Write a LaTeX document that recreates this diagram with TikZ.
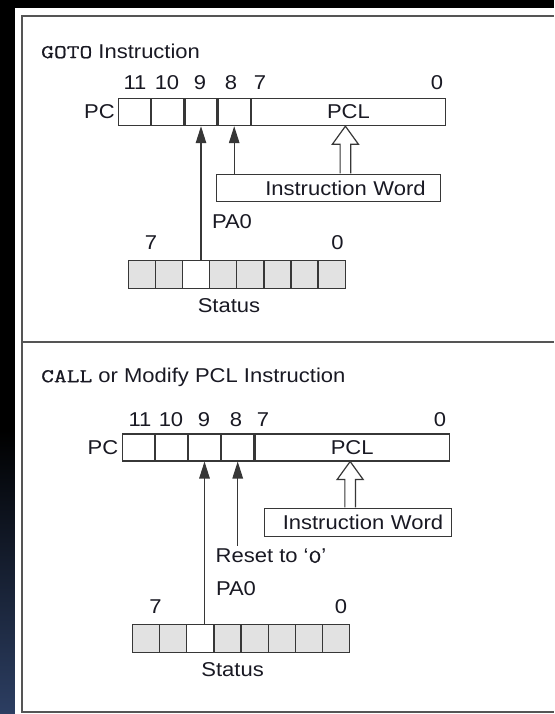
\documentclass[tikz,border=0pt]{standalone}
\usepackage{fontspec}
\setmainfont[FakeStretch=1.1]{Liberation Sans}
\newfontfamily\codefont[FakeStretch=1.28,Scale=0.97,FakeBold=0.8]{Latin Modern Mono}
\usepackage{tikz}
\usetikzlibrary{arrows.meta,positioning,calc}
\definecolor{linea}{RGB}{55,55,55}
\definecolor{texto}{RGB}{25,25,35}
\definecolor{celda}{RGB}{226,226,226}
\definecolor{fondo}{RGB}{44,62,98}

\begin{document}
\begin{tikzpicture}[x=1pt,y=-1pt,
font=\fontsize{20}{23}\selectfont,text=texto,
pccell/.style={draw=linea,line width=1.2pt,minimum height=27pt,inner sep=0pt,anchor=north west},
stcell/.style={draw=linea,line width=1.2pt,minimum width=27.1pt,minimum height=27.5pt,inner sep=0pt,anchor=north west},
wordbox/.style={draw=linea,line width=1.2pt,align=right,inner ysep=0pt,anchor=north west},
lbl/.style={inner sep=0pt},
arr/.style={-{Triangle[length=17pt,width=10.5pt]},line width=1.2pt,draw=linea},
hollow/.style={draw=linea,line width=1.2pt,fill=white,line join=miter},
frame/.style={draw=linea!85,line width=1.6pt}
]
\useasboundingbox (0,0) rectangle (554,714);
% page background and panel frame
\fill[black] (0,0) rectangle (554,714);
\shade[top color=black,bottom color=fondo] (0,430) rectangle (15,714);
\fill[white] (15,8) rectangle (554,714);
\draw[frame] (21,16) -- (554,16);
\draw[frame] (22,16) -- (22,712);
\draw[frame] (21,342) -- (554,342);
\draw[frame] (21,712) -- (554,712);

% GOTO
\node[lbl,anchor=west] (gt) at (41,51) {{\codefont GOTO} Instruction};
\node[pccell,minimum width=32pt] (gpc1) at (118,98) {};
\foreach \i [count=\j from 2] in {1,2,3}
  \node[pccell,minimum width=32pt] (gpc\j) at (gpc\i.north east) {};
\node[pccell,minimum width=194pt] (gpcl) at (gpc4.north east) {PCL};
\node[lbl,left=3pt of gpc1] (gpc) {PC};
\foreach \b/\x in {11/135,10/167,9/200,8/231,7/260,0/437}
  \node[lbl] (gb\b) at (\x,83) {\b};
\node[wordbox,minimum height=27pt,text width=194.5pt,inner xsep=15pt] (giw) at (215.5,174) {Instruction Word};
\foreach \i/\c in {1/celda,2/celda,3/white,4/celda,5/celda,6/celda,7/celda,8/celda}
  \node[stcell,fill=\c] (gs\i) at ({128+27.06*(\i-1)},260) {};
\node[lbl] (gn7) at (151,243) {7};
\node[lbl] (gn0) at (337.5,243) {0};
\node[lbl] (gpa) at (232,222) {PA0};
\node[lbl] (gst) at (229,306) {Status};
\draw[arr] (gpc3.south |- gs3.north) -- (gpc3.south);
\draw[arr] (gpc4.south |- giw.north) -- (gpc4.south);
\coordinate (ght) at ([xshift=-3pt]gpcl.south);
\coordinate (ghs) at ($(ght |- giw.north)+(0,-0.6)$);
\draw[hollow] ($(ghs)+(-5.3,0)$) -- ($(ght)+(-5.3,18)$) -- ($(ght)+(-13,18)$) -- (ght)
  -- ($(ght)+(13,18)$) -- ($(ght)+(5.3,18)$) -- ($(ghs)+(5.3,0)$);

% CALL or modify PCL
\node[lbl,anchor=west] (ct) at (41,377) {{\codefont CALL} or Modify PCL Instruction};
\node[pccell,minimum width=32pt] (cpc1) at (121.5,433.3) {};
\foreach \i [count=\j from 2] in {1,2,3}
  \node[pccell,minimum width=32pt] (cpc\j) at (cpc\i.north east) {};
\node[pccell,minimum width=194.5pt] (cpcl) at (cpc4.north east) {PCL};
\node[lbl,left=3pt of cpc1] (cpc) {PC};
\foreach \b/\x in {11/140,10/171,9/204,8/236,7/263,0/440}
  \node[lbl] (cb\b) at (\x,420) {\b};
\node[wordbox,minimum height=28pt,text width=170.5pt,inner xsep=8pt] (ciw) at (264,508) {Instruction Word};
\foreach \i/\c in {1/celda,2/celda,3/white,4/celda,5/celda,6/celda,7/celda,8/celda}
  \node[stcell,fill=\c] (cs\i) at ({132+27.1*(\i-1)},624) {};
\node[lbl] (cn7) at (155.5,607) {7};
\node[lbl] (cn0) at (341,607) {0};
\node[lbl,anchor=west] (crs) at (215.5,556) {Reset to ‘{\codefont 0}’};
\node[lbl] (cpa) at (236,589) {PA0};
\node[lbl] (cst) at (232.6,670) {Status};
\coordinate (cr) at ($(cpc4.south)+(0,84)$);
\draw[arr] (cpc3.south |- cs3.north) -- (cpc3.south);
\draw[arr] (cr) -- (cpc4.south);
\coordinate (cht) at ([xshift=-2pt]cpcl.south);
\coordinate (chs) at ($(cht |- ciw.north)+(0,-0.6)$);
\draw[hollow] ($(chs)+(-5.3,0)$) -- ($(cht)+(-5.3,18)$) -- ($(cht)+(-13,18)$) -- (cht)
  -- ($(cht)+(13,18)$) -- ($(cht)+(5.3,18)$) -- ($(chs)+(5.3,0)$);
\end{tikzpicture}
\end{document}
